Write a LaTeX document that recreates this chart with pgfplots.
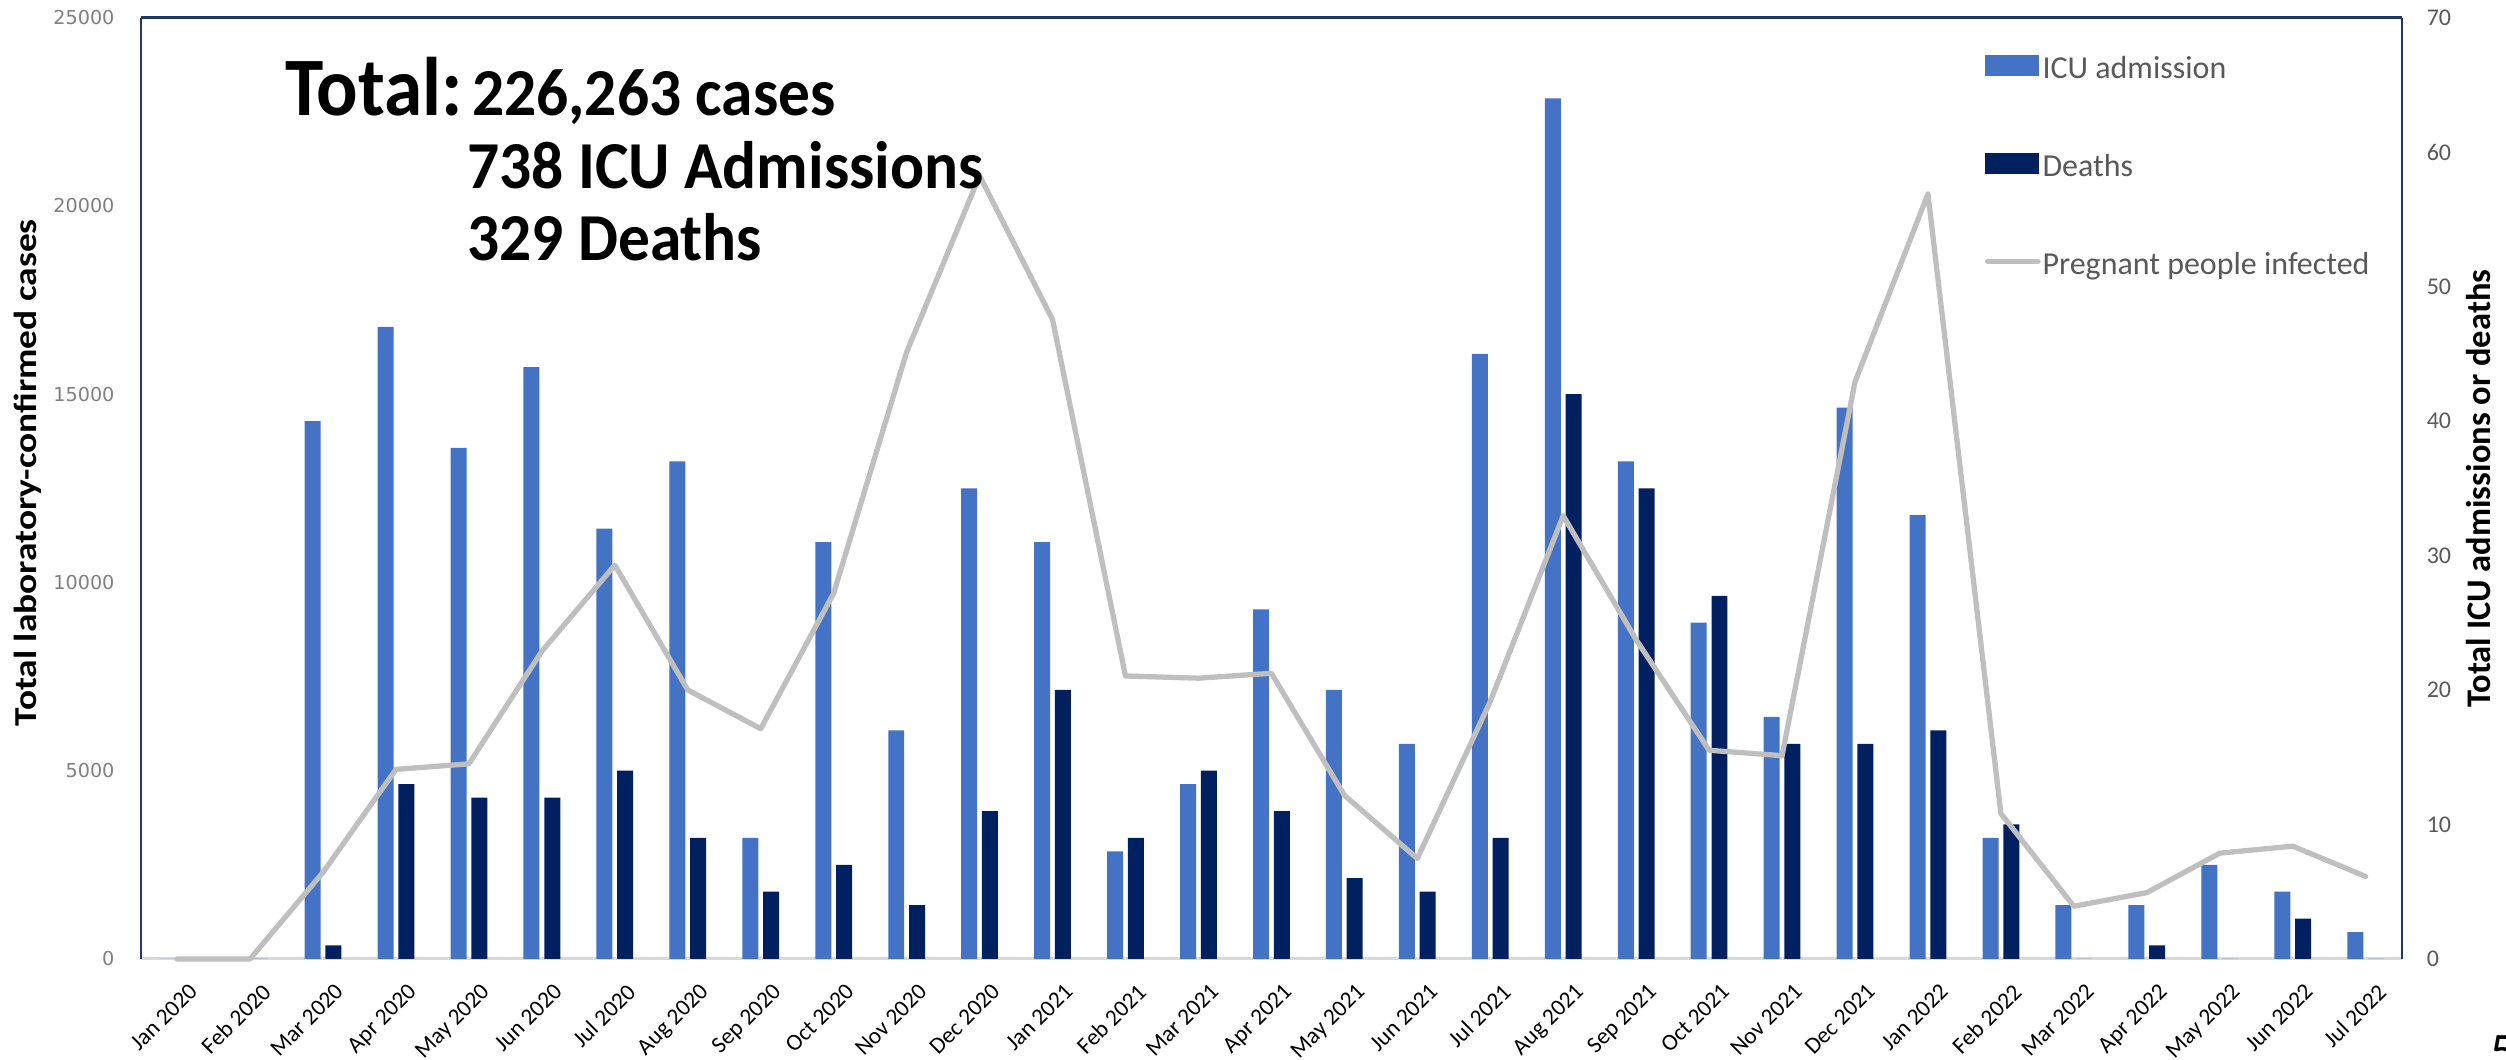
\documentclass[border=0pt]{standalone}
\usepackage{fontspec}
\setmainfont{Carlito}
\newfontfamily\dejavu{DejaVu Sans}
\usepackage{pgfplots}
\usepackage{pgfplotstable}
\pgfplotsset{compat=1.18}

\definecolor{icu}{HTML}{4472C4}
\definecolor{death}{HTML}{002060}
\definecolor{preg}{HTML}{BFBFBF}
\definecolor{framecol}{HTML}{203864}
\definecolor{basecol}{HTML}{D9D9D9}
\definecolor{ticktext}{HTML}{595959}
\definecolor{lefttick}{HTML}{7F7F7F}

% monthly counts: ICU admissions, deaths (right axis) and infected pregnant people (left axis)
\pgfplotstableread{
idx icu deaths cases
0   0   0   0
1   0   0   0
2   40  1   2300
3   47  13  5035
4   38  12  5181
5   44  12  8173
6   32  14  10459
7   37  9   7143
8   9   5   6113
9   31  7   9713
10  17  4   16115
11  35  11  20800
12  31  20  16979
13  8   9   7515
14  13  14  7456
15  26  11  7586
16  20  6   4349
17  16  5   2666
18  45  9   6838
19  64  42  11771
20  37  35  8476
21  25  27  5542
22  18  16  5398
23  41  16  15324
24  33  17  20316
25  9   10  3861
26  4   0   1399
27  4   1   1760
28  7   0   2809
29  5   3   2995
30  2   0   2191
}\monthly

\begin{document}
\begin{tikzpicture}
% bars: ICU admissions and deaths on the right-hand axis
\begin{axis}[
  scale only axis, width=707.5pt, height=294.5pt,
  clip=false,
  xmin=-0.5, xmax=30.5, ymin=0, ymax=70,
  axis y line*=right, axis x line*=bottom,
  x axis line style={-, draw=basecol, line width=0.9pt},
  y axis line style={-, draw=framecol, line width=0.7pt},
  ytick={0,10,...,70},
  xtick={0,...,30},
  xticklabels={Jan 2020,Feb 2020,Mar 2020,Apr 2020,May 2020,Jun 2020,Jul 2020,Aug 2020,Sep 2020,Oct 2020,Nov 2020,Dec 2020,Jan 2021,Feb 2021,Mar 2021,Apr 2021,May 2021,Jun 2021,Jul 2021,Aug 2021,Sep 2021,Oct 2021,Nov 2021,Dec 2021,Jan 2022,Feb 2022,Mar 2022,Apr 2022,May 2022,Jun 2022,Jul 2022},
  major tick length=0pt,
  xticklabel style={rotate=45, anchor=north east, inner sep=0pt, font=\fontsize{7.3}{9}\selectfont, yshift=-7.3pt, xshift=-2.6pt},
  yticklabel style={anchor=west, inner sep=0pt, xshift=7.5pt, font=\fontsize{7.5}{9}\selectfont, text=ticktext},
  /pgf/number format/assume math mode=true,
  ybar, bar width=5pt,
]
\addplot[fill=icu, draw=none, bar shift=-3.25pt] table[x=idx, y=icu] {\monthly};
\addplot[fill=death, draw=none, bar shift=3.25pt] table[x=idx, y=deaths] {\monthly};
\node[rotate=90, inner sep=0pt] at (axis description cs:1.0338,0.4995)
  {\fontsize{10.8}{13}\selectfont\bfseries Total ICU admissions or deaths};
\end{axis}

% line: laboratory-confirmed cases on the left-hand axis
\begin{axis}[
  scale only axis, width=707.5pt, height=294.5pt,
  clip=false,
  xmin=-0.5, xmax=30.5, ymin=0, ymax=25000,
  axis y line*=left, axis x line*=top,
  x axis line style={-, draw=framecol, line width=0.7pt},
  y axis line style={-, draw=framecol, line width=0.7pt},
  xtick=\empty,
  ytick={0,5000,...,25000},
  scaled y ticks=false,
  major tick length=0pt,
  yticklabel style={anchor=east, inner sep=0pt, xshift=-8pt, font=\dejavu\fontsize{6}{7}\selectfont, text=lefttick},
  /pgf/number format/1000 sep={},
  /pgf/number format/assume math mode=true,
  legend cell align=left,
  legend style={at={(0.8152,0.9618)}, anchor=north west, draw=none, fill=none,
    font=\fontsize{10}{12}\selectfont, text=ticktext, row sep=21pt,
    inner sep=0pt, nodes={inner sep=0.6pt}},
]
\addlegendimage{legend image code/.code={\fill[icu] (0pt,-1.7pt) rectangle (16.3pt,4.3pt);}}
\addlegendentry{ICU admission}
\addlegendimage{legend image code/.code={\fill[death] (0pt,-1.7pt) rectangle (16.3pt,4.3pt);}}
\addlegendentry{Deaths}
\addplot[preg, line width=1.65pt, line join=round, line cap=round,
  legend image code/.code={\draw[preg, line width=1.65pt, line cap=round] (0.5pt,1.3pt) -- (16.3pt,1.3pt);}]
  table[x=idx, y=cases] {\monthly};
\addlegendentry{Pregnant people infected}
\node[rotate=90, inner sep=0pt] at (axis description cs:-0.0498,0.5165)
  {\scalebox{1.17}[1]{\fontsize{10}{12}\selectfont\bfseries Total laboratory-confirmed cases}};
\end{axis}

% summary text block
\node[anchor=base west, inner sep=0pt] at (45pt,264pt)
  {\scalebox{0.93}[1]{\fontsize{26}{30}\selectfont\bfseries Total:}};
\node[anchor=base west, inner sep=0pt] at (103.5pt,264pt)
  {\scalebox{0.945}[1]{\fontsize{21}{25}\selectfont\bfseries 226,263 cases}};
\node[anchor=base west, inner sep=0pt] at (102pt,241pt)
  {\scalebox{0.945}[1]{\fontsize{21}{25}\selectfont\bfseries 738 ICU Admissions}};
\node[anchor=base west, inner sep=0pt] at (102pt,218.5pt)
  {\scalebox{0.945}[1]{\fontsize{21}{25}\selectfont\bfseries 329 Deaths}};

% page number
\node[anchor=north west, inner sep=0pt] at (735pt,-23.8pt) {\fontsize{16}{18}\selectfont 5};

\pgfresetboundingbox
\path (-44pt,-31.5pt) rectangle (740pt,300pt);
\end{tikzpicture}
\end{document}
